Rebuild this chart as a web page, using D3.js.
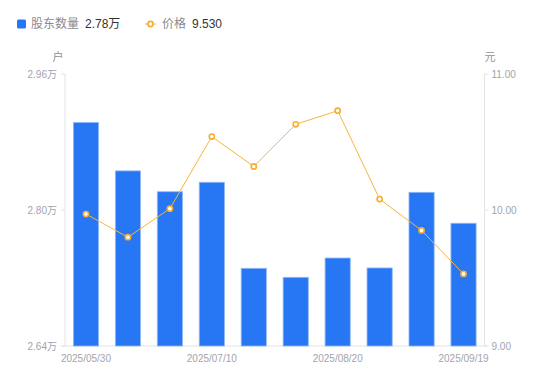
<!DOCTYPE html>
<html><head><meta charset="utf-8">
<script src="https://cdn.jsdelivr.net/npm/d3@7/dist/d3.min.js"></script>
<style>body{margin:0;background:#fff;}svg{display:block;font-family:"Liberation Sans","Noto Sans CJK SC",sans-serif;}</style>
</head><body><svg id="c" width="550" height="381"></svg>
<script>
const dates = ["2025/05/30","2025/06/10","2025/06/20","2025/07/10","2025/07/31","2025/08/10","2025/08/20","2025/08/29","2025/09/10","2025/09/19"];
const holders = [2.903, 2.846, 2.8215, 2.8326, 2.7314, 2.7208, 2.7435, 2.7318, 2.8208, 2.7844];
const prices = [9.97, 9.80, 10.01, 10.54, 10.32, 10.63, 10.73, 10.08, 9.85, 9.53];
const xTickLabels = ["2025/05/30","2025/07/10","2025/08/20","2025/09/19"];
const leftTicks = [2.64, 2.80, 2.96];
const rightTicks = [9, 10, 11];

const svg = d3.select("#c");
const L = 65, R = 484.5, T = 74, B = 346;
const x = d3.scaleBand().domain(dates).range([L, R]).paddingInner(0.4).paddingOuter(0.2);
const yL = d3.scaleLinear().domain([2.64, 2.96]).range([B, T]);
const yR = d3.scaleLinear().domain([9, 11]).range([B, T]);
const gridC = "#e3e3e6", txtC = "#a3a3ad";

svg.append("line").attr("x1", L).attr("x2", L).attr("y1", T).attr("y2", B).attr("stroke", gridC);
svg.append("line").attr("x1", R).attr("x2", R).attr("y1", T).attr("y2", B).attr("stroke", gridC);
svg.append("line").attr("x1", L - 4).attr("x2", R + 4).attr("y1", B).attr("y2", B).attr("stroke", gridC);

leftTicks.forEach(v => {
  svg.append("line").attr("x1", L - 4).attr("x2", L).attr("y1", yL(v)).attr("y2", yL(v)).attr("stroke", gridC);
  svg.append("text").attr("x", L - 8).attr("y", yL(v)).attr("dy", "0.35em").attr("text-anchor", "end")
    .attr("font-size", 10).attr("fill", txtC).text(v.toFixed(2) + "万");
});
rightTicks.forEach(v => {
  svg.append("line").attr("x1", R).attr("x2", R + 4).attr("y1", yR(v)).attr("y2", yR(v)).attr("stroke", gridC);
  svg.append("text").attr("x", R + 7).attr("y", yR(v)).attr("dy", "0.35em").attr("text-anchor", "start")
    .attr("font-size", 10).attr("fill", txtC).text(v.toFixed(2));
});
xTickLabels.forEach(d => {
  svg.append("text").attr("x", x(d) + x.bandwidth() / 2).attr("y", 358).attr("dy", "0.35em")
    .attr("text-anchor", "middle").attr("font-size", 10).attr("fill", txtC).text(d);
});

svg.append("text").attr("x", 58).attr("y", 57).attr("dy", "0.35em").attr("text-anchor", "middle").attr("font-size", 11).attr("fill", "#909099").text("户");
svg.append("text").attr("x", 490).attr("y", 57).attr("dy", "0.35em").attr("text-anchor", "middle").attr("font-size", 11).attr("fill", "#909099").text("元");

svg.append("g").selectAll("rect").data(dates).join("rect")
  .attr("x", d => x(d)).attr("width", x.bandwidth())
  .attr("y", (d, i) => yL(holders[i])).attr("height", (d, i) => B - yL(holders[i]))
  .attr("fill", "#2777f4").attr("stroke", "#8fb8f8").attr("stroke-width", 0.8);

const pts = dates.map((d, i) => [x(d) + x.bandwidth() / 2, yR(prices[i])]);
svg.append("path").attr("d", d3.line()(pts)).attr("fill", "none").attr("stroke", "#f8b53c").attr("stroke-width", 1);
svg.append("g").selectAll("circle").data(pts).join("circle")
  .attr("cx", p => p[0]).attr("cy", p => p[1]).attr("r", 2.6)
  .attr("fill", "#fff").attr("stroke", "#f7ad2e").attr("stroke-width", 1.6);

svg.append("rect").attr("x", 17).attr("y", 19.5).attr("width", 9).attr("height", 9).attr("rx", 1.5).attr("fill", "#2777f4");
svg.append("text").attr("x", 31).attr("y", 24).attr("dy", "0.35em").attr("font-size", 12).attr("fill", "#8a8a94").text("股东数量");
svg.append("text").attr("x", 85).attr("y", 24).attr("dy", "0.35em").attr("font-size", 12).attr("fill", "#333").text("2.78万");
svg.append("line").attr("x1", 145).attr("x2", 156).attr("y1", 24).attr("y2", 24).attr("stroke", "#f8b53c").attr("stroke-width", 1);
svg.append("circle").attr("cx", 150.5).attr("cy", 24).attr("r", 2.6).attr("fill", "#fff").attr("stroke", "#f7ad2e").attr("stroke-width", 1.6);
svg.append("text").attr("x", 162).attr("y", 24).attr("dy", "0.35em").attr("font-size", 12).attr("fill", "#8a8a94").text("价格");
svg.append("text").attr("x", 192).attr("y", 24).attr("dy", "0.35em").attr("font-size", 12).attr("fill", "#333").text("9.530");
</script></body></html>
